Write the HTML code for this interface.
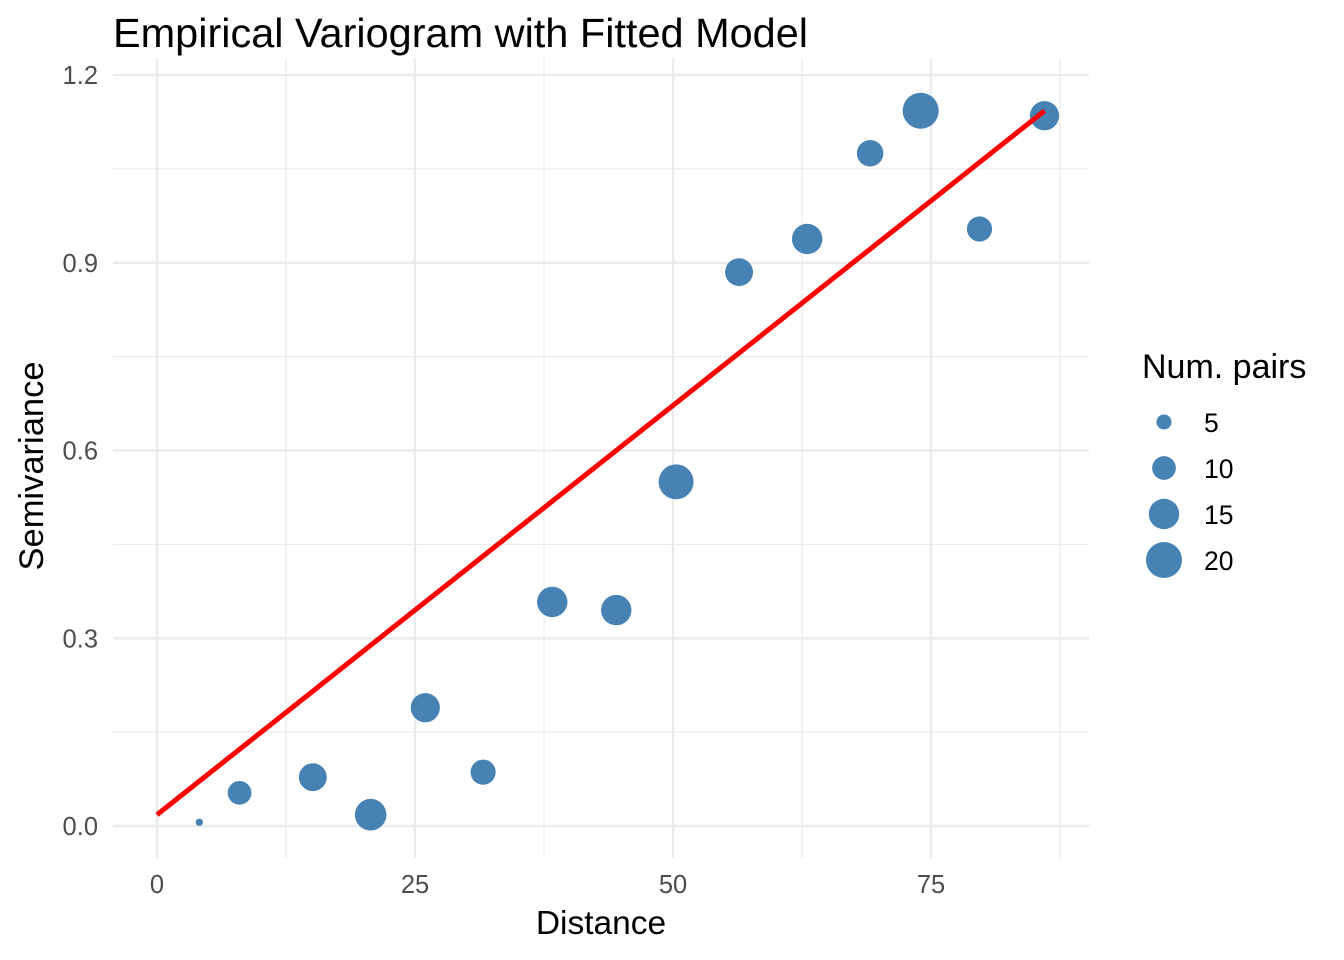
<!DOCTYPE html>
<html><head><meta charset="utf-8">
<style>
html,body{margin:0;padding:0;background:#fff;}
svg{display:block;font-family:"Liberation Sans",sans-serif;}
</style></head>
<body>
<svg id="chart" width="1344" height="960">
<text x="113" y="47" font-size="41" fill="#000" textLength="695" lengthAdjust="spacingAndGlyphs">Empirical Variogram with Fitted Model</text>
<g id="grid"></g>
<g id="axes"></g>
<g id="pts"></g>
<g id="fit"></g>
<text x="601" y="934" font-size="33.5" text-anchor="middle">Distance</text>
<text transform="translate(43,466) rotate(-90)" font-size="34.5" text-anchor="middle">Semivariance</text>
<g id="legend"></g>
</svg>
<script>
const distances=[4.1,8.0,15.1,20.7,26.0,31.6,38.3,44.5,50.3,56.4,63.0,69.1,74.0,79.7,86.0];
const gammas=[0.006,0.053,0.078,0.018,0.189,0.086,0.358,0.345,0.550,0.885,0.938,1.075,1.143,0.954,1.135];
const npairs=[2,10,13,16,14,11,15,15,19,13,15,12,20,11,14];
const xTicks=[0,25,50,75];
const yTicks=[0.0,0.3,0.6,0.9,1.2];
const yTickLabels=["0.0","0.3","0.6","0.9","1.2"];
const legendValues=[5,10,15,20];
const fitIntercept=0.018, fitSlope=0.01308, fitRange=[0,86];

const NS="http://www.w3.org/2000/svg";
const X=d=>157+d*10.32;
const Y=g=>826-g*625.8;
const R=n=>Math.max(3,-3+4.7*Math.sqrt(n));
function mk(tag,attrs,parent){const e=document.createElementNS(NS,tag);for(const k in attrs)e.setAttribute(k,attrs[k]);parent.appendChild(e);return e;}
const grid=document.getElementById('grid'),axes=document.getElementById('axes');
const x0=113,x1=1089,y0=58,y1=858;
for(let i=0;i<xTicks.length;i++){const m=xTicks[i]+12.5;if(X(m)<x1){const l=mk('line',{x1:X(m),x2:X(m),y1:y0,y2:y1,stroke:'#ebebeb','stroke-width':1.2},grid);

}}
for(let i=0;i<yTicks.length-1;i++){const m=yTicks[i]+0.15;const l=mk('line',{x1:x0,x2:x1,y1:Y(m),y2:Y(m),stroke:'#ebebeb','stroke-width':1.2},grid);

}
xTicks.forEach(t=>{const l=mk('line',{x1:X(t),x2:X(t),y1:y0,y2:y1,stroke:'#ebebeb','stroke-width':2.4},grid);


const tx=mk('text',{x:X(t),y:893,'font-size':25.5,fill:'#4d4d4d','text-anchor':'middle'},axes);tx.textContent=t;

});
yTicks.forEach((t,i)=>{const l=mk('line',{x1:x0,x2:x1,y1:Y(t),y2:Y(t),stroke:'#ebebeb','stroke-width':2.4},grid);


const tx=mk('text',{x:98,y:Y(t)+9,'font-size':25.5,fill:'#4d4d4d','text-anchor':'end'},axes);tx.textContent=yTickLabels[i];

});
const fl=mk('line',{x1:X(fitRange[0]),y1:Y(fitIntercept+fitSlope*fitRange[0]),x2:X(fitRange[1]),y2:Y(fitIntercept+fitSlope*fitRange[1]),stroke:'#ff0000','stroke-width':5},document.getElementById('fit'));


const pts=document.getElementById('pts');
distances.forEach((d,i)=>{const c=mk('circle',{cx:X(d),cy:Y(gammas[i]),r:R(npairs[i]),fill:'#4682b4'},pts);

});
const lg=document.getElementById('legend');
const lt=mk('text',{x:1142,y:378,'font-size':34},lg);lt.textContent='Num. pairs';


legendValues.forEach((v,i)=>{const cy=422+i*46;
const c=mk('circle',{cx:1164,cy:cy,r:R(v),fill:'#4682b4'},lg);


const t=mk('text',{x:1204,y:cy+10,'font-size':26.5},lg);t.textContent=v;

});
</script>
</body></html>
